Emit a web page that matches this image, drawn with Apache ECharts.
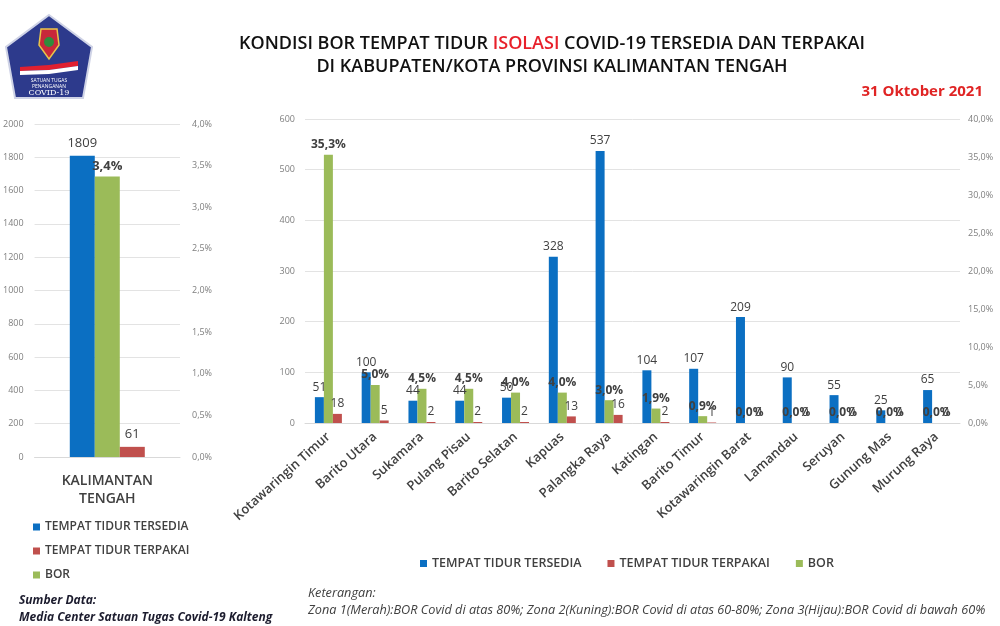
<!DOCTYPE html>
<html>
<head>
<meta charset="utf-8">
<script src="https://cdn.jsdelivr.net/npm/echarts@6/dist/echarts.min.js"></script>
<style>
html,body{margin:0;padding:0;background:#fff;}
#chart{width:1000px;height:626px;}
</style>
</head>
<body>
<div id="chart"></div>
<script>
// ---- Data ----
const provinceCategory = ['KALIMANTAN TENGAH'];
const provinceTersedia = [1809];
const provinceTerpakai = [61];
const provinceBor = [3.37];

const regions = ['Kotawaringin Timur', 'Barito Utara', 'Sukamara', 'Pulang Pisau', 'Barito Selatan', 'Kapuas', 'Palangka Raya', 'Katingan', 'Barito Timur', 'Kotawaringin Barat', 'Lamandau', 'Seruyan', 'Gunung Mas', 'Murung Raya'];
const regionTersedia = [51, 100, 44, 44, 50, 328, 537, 104, 107, 209, 90, 55, 25, 65];
const regionTerpakai = [18, 5, 2, 2, 2, 13, 16, 2, 1, 0, 0, 0, 0, 0];
const regionBor = [35.3, 5.0, 4.5, 4.5, 4.0, 4.0, 3.0, 1.9, 0.9, 0, 0, 0, 0, 0];

const seriesNames = ['TEMPAT TIDUR TERSEDIA', 'TEMPAT TIDUR TERPAKAI', 'BOR'];

// ---- Styles ----
const FONT = "'Open Sans', 'Liberation Sans', sans-serif";
const BLUE = '#0b6fc2', RED = '#c0504d', GREEN = '#9bbb59';
const TXT = '#404040';
const pct = v => Number(v).toFixed(1).replace('.', ',') + '%';
const plain = v => String(v);

const chart = echarts.init(document.getElementById('chart'));

const axisCommon = {
  axisLine: {show: false}, axisTick: {show: false}
};

chart.setOption({
  backgroundColor: '#fff',
  textStyle: {fontFamily: FONT},
  animation: false,
  title: [
    {
      left: 547, top: 27, textAlign: 'center',
      text: '{a|KONDISI BOR TEMPAT TIDUR }{r|ISOLASI}{a| COVID-19 TERSEDIA DAN TERPAKAI}\n{a|DI KABUPATEN/KOTA PROVINSI KALIMANTAN TENGAH}',
      textStyle: {
        rich: {
          a: {fontSize: 18, fontWeight: 600, color: '#111', fontFamily: FONT, lineHeight: 23},
          r: {fontSize: 18, fontWeight: 600, color: '#e8202a', fontFamily: FONT, lineHeight: 23}
        }
      }
    },
    {
      right: 12, top: 79, text: '31 Oktober 2021',
      textStyle: {fontSize: 15, fontWeight: 'bold', color: '#e02424', fontFamily: FONT}
    },
    {
      left: 14, top: 587,
      text: 'Sumber Data:\nMedia Center Satuan Tugas Covid-19 Kalteng',
      textStyle: {fontSize: 12, fontWeight: 'bold', fontStyle: 'italic', color: '#1c1c2e', fontFamily: FONT, lineHeight: 17}
    },
    {
      left: 303, top: 580,
      text: 'Keterangan:\nZona 1(Merah):BOR Covid di atas 80%; Zona 2(Kuning):BOR Covid di atas 60-80%; Zona 3(Hijau):BOR Covid di bawah 60%',
      textStyle: {fontSize: 12.7, fontWeight: 'normal', fontStyle: 'italic', color: TXT, fontFamily: FONT, lineHeight: 17}
    }
  ],
  legend: [
    {
      orient: 'vertical', left: 28, top: 515, itemGap: 10,
      icon: 'rect', itemWidth: 7, itemHeight: 7,
      data: seriesNames,
      textStyle: {fontSize: 12, fontWeight: 600, color: TXT, fontFamily: FONT, lineHeight: 14}
    },
    {
      orient: 'horizontal', left: 415, top: 552, itemGap: 26,
      icon: 'rect', itemWidth: 7, itemHeight: 7,
      data: seriesNames,
      textStyle: {fontSize: 12.5, fontWeight: 600, color: TXT, fontFamily: FONT}
    }
  ],
  grid: [
    {left: 33, right: 820, top: 124, bottom: 169, containLabel: false},
    {left: 305, right: 40, top: 119, bottom: 203, containLabel: false}
  ],
  xAxis: [
    {
      type: 'category', gridIndex: 0, data: provinceCategory,
      axisLine: {show: true, lineStyle: {color: '#d9d9d9'}}, axisTick: {show: false},
      axisLabel: {
        color: TXT, fontSize: 14, fontWeight: 600, margin: 15, lineHeight: 18, fontFamily: FONT,
        formatter: v => v.replace(' ', '\n')
      }
    },
    {
      type: 'category', gridIndex: 1, data: regions,
      axisLine: {show: true, lineStyle: {color: '#d9d9d9'}}, axisTick: {show: false},
      axisLabel: {color: TXT, fontSize: 13, fontWeight: 600, rotate: 42, interval: 0, margin: 12, fontFamily: FONT}
    }
  ],
  yAxis: [
    Object.assign({}, axisCommon, {
      type: 'value', gridIndex: 0, min: 0, max: 2000, interval: 200,
      splitLine: {lineStyle: {color: '#e3e3e3'}},
      axisLabel: {color: '#7f7f7f', fontSize: 9, fontFamily: FONT, margin: 11, formatter: plain}
    }),
    Object.assign({}, axisCommon, {
      type: 'value', gridIndex: 0, position: 'right', min: 0, max: 4, interval: 0.5,
      splitLine: {show: false},
      axisLabel: {color: '#7f7f7f', fontSize: 9, fontFamily: FONT, margin: 12, formatter: pct}
    }),
    Object.assign({}, axisCommon, {
      type: 'value', gridIndex: 1, min: 0, max: 600, interval: 100,
      splitLine: {lineStyle: {color: '#e3e3e3'}},
      axisLabel: {color: '#7f7f7f', fontSize: 9, fontFamily: FONT, margin: 10, formatter: plain}
    }),
    Object.assign({}, axisCommon, {
      type: 'value', gridIndex: 1, position: 'right', min: 0, max: 40, interval: 5,
      splitLine: {show: false},
      axisLabel: {color: '#7f7f7f', fontSize: 9, fontFamily: FONT, margin: 8, formatter: pct}
    })
  ],
  series: [
    // Province chart
    {
      name: seriesNames[0], type: 'bar', xAxisIndex: 0, yAxisIndex: 0,
      data: provinceTersedia, barWidth: 25, barGap: '0%',
      itemStyle: {color: BLUE},
      label: {show: true, position: 'top', color: TXT, fontSize: 13, fontFamily: FONT, distance: 6}
    },
    {
      name: seriesNames[2], type: 'bar', xAxisIndex: 0, yAxisIndex: 1,
      data: provinceBor, barWidth: 25, barGap: '0%',
      itemStyle: {color: GREEN},
      label: {show: true, position: 'top', color: TXT, fontSize: 13, fontWeight: 'bold', fontFamily: FONT, distance: 4, formatter: p => pct(p.value)}
    },
    {
      name: seriesNames[1], type: 'bar', xAxisIndex: 0, yAxisIndex: 0,
      data: provinceTerpakai, barWidth: 25, barGap: '0%',
      itemStyle: {color: RED},
      label: {show: true, position: 'top', color: TXT, fontSize: 13, fontFamily: FONT, distance: 6}
    },
    // Regional chart
    {
      name: seriesNames[0], type: 'bar', xAxisIndex: 1, yAxisIndex: 2,
      data: regionTersedia, barWidth: 9, barGap: '0%',
      itemStyle: {color: BLUE},
      label: {show: true, position: 'top', color: TXT, fontSize: 12, fontFamily: FONT, distance: 4}
    },
    {
      name: seriesNames[2], type: 'bar', xAxisIndex: 1, yAxisIndex: 3,
      data: regionBor, barWidth: 9, barGap: '0%',
      itemStyle: {color: GREEN},
      label: {show: true, position: 'top', color: TXT, fontSize: 12, fontWeight: 'bold', fontFamily: FONT, distance: 4, formatter: p => pct(p.value)}
    },
    {
      name: seriesNames[1], type: 'bar', xAxisIndex: 1, yAxisIndex: 2,
      data: regionTerpakai, barWidth: 9, barGap: '0%',
      itemStyle: {color: RED},
      label: {show: true, position: 'top', color: TXT, fontSize: 12, fontFamily: FONT, distance: 4}
    }
  ],
  graphic: [
    {
      type: 'group', left: 5, top: 14,
      children: [
        {type: 'polygon', shape: {points: [[43, 0], [86, 32], [77, 83], [9, 83], [0, 32]]},
          style: {fill: '#2d3a8c', stroke: '#cfd3e6', lineWidth: 2}},
        {type: 'polygon', shape: {points: [[35, 14], [51, 14], [53, 30], [43, 44], [33, 30]]},
          style: {fill: '#c8283a', stroke: '#e9c54a', lineWidth: 1.5}},
        {type: 'circle', shape: {cx: 43, cy: 27, r: 5}, style: {fill: '#2f8c3c'}},
        {type: 'polygon', shape: {points: [[14, 52], [43, 50], [72, 46], [72, 51], [43, 55], [14, 56]]},
          style: {fill: '#e02030'}},
        {type: 'polygon', shape: {points: [[14, 56], [43, 55], [72, 51], [72, 55], [43, 59], [14, 60]]},
          style: {fill: '#ffffff'}},
        {type: 'text', style: {x: 43, y: 63, text: 'SATUAN TUGAS', fill: '#fff', fontSize: 5, align: 'center', fontFamily: FONT}},
        {type: 'text', style: {x: 43, y: 69, text: 'PENANGANAN', fill: '#fff', fontSize: 5, align: 'center', fontFamily: FONT}},
        {type: 'text', style: {x: 43, y: 74, text: 'COVID-19', fill: '#fff', fontSize: 8, align: 'center', fontFamily: "'DejaVu Serif', serif"}}
      ]
    }
  ]
});
</script>
</body>
</html>
